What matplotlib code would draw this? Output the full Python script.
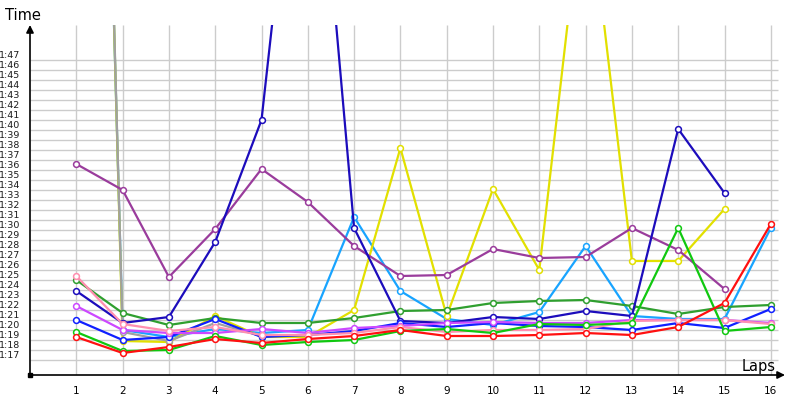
import matplotlib
matplotlib.use("Agg")
import matplotlib.pyplot as plt
import matplotlib.transforms as mtransforms
import numpy as np

# lap times in seconds, None = no lap
LAPS = list(range(1, 17))

RED        = [79.3, 77.7, 78.3, 79.1, 78.7, 79.1, 79.4, 80.0, 79.4, 79.4, 79.5, 79.7, 79.5, 80.3, 82.7, 90.6]
GREEN      = [79.8, 77.9, 78.0, 79.4, 78.5, 78.8, 79.0, 79.9, 80.1, 79.7, 80.6, 80.5, 80.7, 90.2, 79.9, 80.3]
DARK_GREEN = [85.0, 81.7, 80.5, 81.2, 80.7, 80.7, 81.2, 81.9, 82.0, 82.7, 82.9, 83.0, 82.4, 81.6, 82.3, 82.5]
PINK       = [85.4, 80.6, 79.9, 80.3, 79.5, 79.5, 79.7, 80.3, 79.8, 80.0, 80.0, 80.1, 80.9, 81.0, 81.0, 80.6]
VIOLET     = [82.4, 80.0, 79.7, 79.7, 80.1, 79.7, 80.2, 80.4, 80.7, 80.8, 80.7, 80.7, 81.0, 81.0, 81.0, 80.7]
BLUE       = [81.0, 79.0, 79.3, 81.1, 79.3, 79.5, 79.9, 80.7, 80.3, 80.7, 80.4, 80.3, 80.0, 80.7, 80.2, 82.1]
NAVY       = [83.9, 80.7, 81.3, 88.8, 101.0, 142.7, 90.2, 80.9, 80.7, 81.3, 81.1, 81.9, 81.4, 100.1, 93.7, None]
PURPLE     = [96.6, 94.0, 85.3, 90.1, 96.1, 92.8, 88.4, 85.4, 85.5, 88.1, 87.2, 87.3, 90.2, 88.0, 84.1, None]
YELLOW     = [250.0, 78.9, 78.8, 81.4, 79.3, 79.3, 82.0, 98.2, 81.4, 94.1, 86.0, 126.3, 86.9, 86.9, 92.1, None]
LIGHT_BLUE = [244.0, 80.0, 79.3, 80.1, 79.7, 80.0, 91.3, 83.9, 81.1, 80.5, 81.8, 88.4, 81.4, 81.1, 81.1, 90.2]
GRAY       = [248.0, 79.8, 78.9, 80.7, 79.4, None, None, None, None, None, None, None, None, None, None, None]

SERIES = [
    (LIGHT_BLUE, "#18a4ff"),
    (YELLOW,     "#e2e000"),
    (GRAY,       "#a0a0a0"),
    (PURPLE,     "#9a3c9c"),
    (DARK_GREEN, "#2f9f2f"),
    (NAVY,       "#1c0cbc"),
    (BLUE,       "#1020ff"),
    (VIOLET,     "#cc48ff"),
    (PINK,       "#ff8fb0"),
    (GREEN,      "#10c810"),
    (RED,        "#ff1010"),
]

Y_TICKS = list(range(77, 108))
Y_LABELS = [f"1:{s - 60:02d}" for s in Y_TICKS]

C_GRID = "#cccccc"

fig = plt.figure(figsize=(8, 4), dpi=100)
ax = fig.add_axes([30 / 800, 25 / 400, 755 / 800, 350 / 400])
ax.set_xlim(0, 755 / 46.3)
ax.set_ylim(75.5, 110.5)

# grid drawn by hand so it stops short of the arrow
ax.hlines(Y_TICKS, 0, 16.15, color=C_GRID, lw=1.0, zorder=0)
ax.vlines(LAPS, 75.5, 110.5, color=C_GRID, lw=1.0, zorder=0)

for values, color in SERIES:
    y = np.array([np.nan if v is None else v for v in values], dtype=float)
    ax.plot(LAPS, y, color=color, lw=1.6, marker="o", ms=4.2,
            mfc="white", mec=color, mew=1.1, zorder=3)

for s in ax.spines.values():
    s.set_visible(False)

ax.set_xticks(LAPS)
ax.set_xticklabels([str(l) for l in LAPS], fontsize=7.5)
ax.set_yticks(Y_TICKS)
ax.set_yticklabels(Y_LABELS, fontsize=6.8, color="#1a1a1a")
ax.tick_params(axis="both", length=0)
ax.tick_params(axis="x", pad=8)
ax.tick_params(axis="y", pad=7)

# labels sit half a step above their grid lines
shift = mtransforms.ScaledTranslation(0, 5 / 100, fig.dpi_scale_trans)
for lbl in ax.get_yticklabels():
    lbl.set_transform(lbl.get_transform() + shift)

# axes with arrow heads
ax.annotate("", xy=(0, 1.0), xytext=(0, 0), xycoords="axes fraction",
            arrowprops=dict(arrowstyle="-|>", color="black", lw=1.2,
                            mutation_scale=11, shrinkA=0, shrinkB=0),
            annotation_clip=False)
ax.annotate("", xy=(1.0, 0), xytext=(0, 0), xycoords="axes fraction",
            arrowprops=dict(arrowstyle="-|>", color="black", lw=1.2,
                            mutation_scale=11, shrinkA=0, shrinkB=0),
            annotation_clip=False)
ax.plot([0], [75.5], marker="s", ms=3, color="black", clip_on=False, zorder=5)

fig.text(5 / 800, 1 - 15 / 400, "Time", fontsize=10.5, va="center", ha="left")
fig.text(776 / 800, 1 - 367 / 400, "Laps", fontsize=10.5, va="center", ha="right")

fig.savefig("out.png", dpi=100)
